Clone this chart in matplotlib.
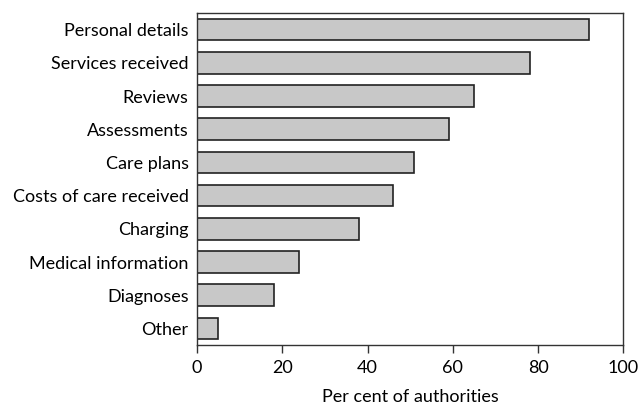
import matplotlib
matplotlib.use("Agg")
import matplotlib.pyplot as plt

categories = ["Personal details", "Services received", "Reviews", "Assessments",
              "Care plans", "Costs of care received", "Charging",
              "Medical information", "Diagnoses", "Other"]
values = [92, 78, 65, 59, 51, 46, 38, 24, 18, 5]
xticks = [0, 20, 40, 60, 80, 100]

plt.rcParams['font.family'] = ['Lato', 'DejaVu Sans']

fig = plt.figure(figsize=(6.39, 4.05), dpi=100)
ax = fig.add_axes([0.3083, 0.1481, 0.9755 - 0.3083, 0.9679 - 0.1481])

ypos = list(range(len(categories)))
ax.barh(ypos, values, height=0.65, color="#c8c8c8", edgecolor="#222222", linewidth=1.2)
ax.set_yticks(ypos)
ax.set_yticklabels(categories, fontsize=13)
ax.set_ylim(len(categories) - 0.5, -0.5)
ax.set_xlim(0, 100)
ax.set_xticks(xticks)
ax.set_xticklabels([str(t) for t in xticks], fontsize=13)
ax.tick_params(axis='y', length=0, pad=6)
ax.tick_params(axis='x', length=6, width=1, color="#333333", pad=5)
for s in ax.spines.values():
    s.set_color("#333333")
    s.set_linewidth(1)
ax.set_xlabel("Per cent of authorities", fontsize=13, labelpad=9.5)

fig.savefig("out.png", dpi=100)
